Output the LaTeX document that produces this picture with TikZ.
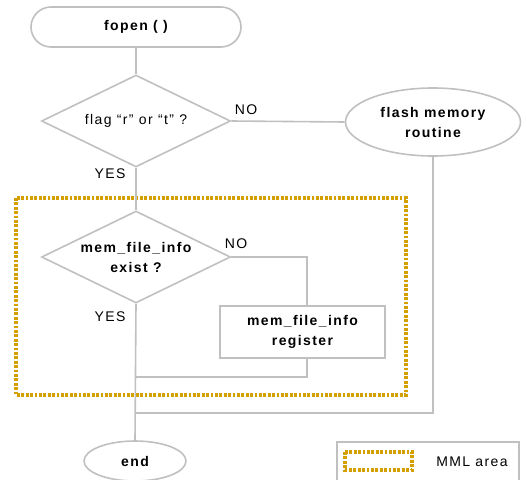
\documentclass[tikz,border=0pt]{standalone}
\usepackage{fontspec}
\setmainfont{Liberation Sans}
\newfontfamily\spaced[LetterSpace=10]{Liberation Sans}
\usetikzlibrary{shapes.geometric,calc}
\definecolor{lgray}{RGB}{192,192,192}
\definecolor{gold}{RGB}{212,160,0}
\begin{document}
\begin{tikzpicture}[x=1pt,y=-1pt,
  every node/.style={font=\spaced\fontsize{14}{20}\selectfont},
  conn/.style={draw=lgray,line width=1.6pt},
  shp/.style={draw=lgray,line width=1.6pt,fill=white,font=\spaced\bfseries\fontsize{14}{20}\selectfont,align=center,inner sep=0pt},
  term/.style={shp,rounded corners=20pt,minimum width=210pt,minimum height=40pt},
  dec/.style={shp,diamond,aspect=2.05,minimum width=189pt,minimum height=92pt,font=\spaced\fontsize{14}{20}\selectfont},
  decb/.style={shp,diamond,aspect=2.05,minimum width=189pt,minimum height=92pt},
  oval/.style={shp,ellipse},
  proc/.style={shp,rectangle,minimum width=165pt,minimum height=52pt},
  lbl/.style={font=\spaced\fontsize{14}{16}\selectfont,inner sep=0pt},
  mml/.style={draw=gold,line width=3.3pt,dash pattern=on 2.8pt off 1.6pt}
]
\useasboundingbox (0,0) rectangle (527,479);

% nodes
\node[term] (fopen) at (136,27) {fopen ( )};
\node[dec] (d1) at (136,121) {flag “r” or “t” ?};
\node[oval,minimum width=175pt,minimum height=68pt] (flash) at (433,122) {flash memory\\routine};
\node[decb] (d2) at (136,257) {mem\_file\_info\\exist ?};
\node[proc] (reg) at (302.5,332) {mem\_file\_info\\register};
\node[oval,minimum width=102pt,minimum height=40pt] (end) at (135,461) {end};

\coordinate (j1) at (136,377);
\coordinate (j2) at (136,413);

% MML area
\draw[mml] (16,198) rectangle (406,395);

% connectors
\draw[conn] (fopen.south) -- (d1.north);
\draw[conn] (d1.east) -- (flash.west);
\draw[conn] (d1.south) -- (d2.north);
\draw[conn] (d2.east) -| ([xshift=4.5pt]reg.north);
\draw[conn] ([xshift=4.5pt]reg.south) |- (j1);
\draw[conn] (d2.south) -- (end.north);
\draw[conn] (flash.south) |- (j2);

% labels
\node[lbl] (no1) at (246,110) {NO};
\node[lbl] (yes1) at (110,174) {YES};
\node[lbl] (no2) at (236,244) {NO};
\node[lbl] (yes2) at (110,317) {YES};

% legend
\draw[conn] (337,442) rectangle (519,492);
\draw[mml] (345,452) rectangle (412,470);
\node[lbl] (leg) at (472,462) {MML area};
\end{tikzpicture}
\end{document}
